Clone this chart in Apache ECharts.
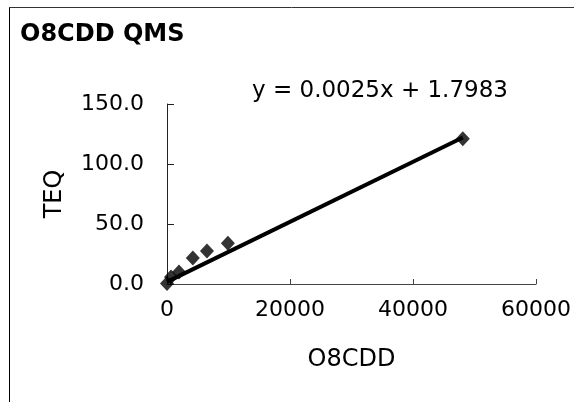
<!DOCTYPE html>
<html>
<head>
<meta charset="utf-8">
<script src="https://cdn.jsdelivr.net/npm/echarts@6/dist/echarts.min.js"></script>
<style>
html, body { margin: 0; padding: 0; background: #fff; }
#chart { width: 574px; height: 402px; }
</style>
</head>
<body>
<div id="chart"></div>
<script>
var o8cdd = [0, 650, 1950, 4200, 6500, 9900, 48100];
var teq = [0.5, 5.8, 10, 21.7, 27.5, 34, 121];
var slope = 0.0025;
var intercept = 1.7983;
var trendX = [0, 48100];
var xTicks = [0, 20000, 40000, 60000];
var yTicks = [0, 50, 100, 150];

var chart = echarts.init(document.getElementById('chart'));

var font = 'DejaVu Sans, sans-serif';

var option = {
    backgroundColor: '#fff',
    animation: false,
    title: {
        text: 'O8CDD QMS',
        left: 15,
        top: 18,
        textStyle: { fontFamily: font, fontSize: 24, fontWeight: 'bold', color: '#000' }
    },
    graphic: [
        { type: 'line', shape: { x1: 9.5, y1: 7, x2: 9.5, y2: 402 }, style: { stroke: '#000', lineWidth: 1 } },
        { type: 'line', shape: { x1: 9, y1: 7.5, x2: 574, y2: 7.5 }, style: { stroke: '#333', lineWidth: 1 } },
        {
            type: 'text', left: 252, top: 80,
            style: { text: 'y = 0.0025x + 1.7983', font: '23px ' + font, fill: '#000' }
        }
    ],
    grid: { left: 167, right: 37, top: 104, bottom: 118 },
    xAxis: {
        type: 'value',
        min: xTicks[0],
        max: xTicks[xTicks.length - 1],
        interval: 20000,
        name: 'O8CDD',
        nameLocation: 'middle',
        nameGap: 64,
        nameTextStyle: { fontFamily: font, fontSize: 24, color: '#000' },
        axisLine: { lineStyle: { color: '#444', width: 1 } },
        axisTick: { inside: true, length: 5, lineStyle: { color: '#444' } },
        axisLabel: {
            fontFamily: font, fontSize: 22, color: '#000', margin: 15,
            formatter: function (v) { return String(v); }
        },
        splitLine: { show: false }
    },
    yAxis: {
        type: 'value',
        min: yTicks[0],
        max: yTicks[yTicks.length - 1],
        interval: 50,
        name: 'TEQ',
        nameLocation: 'middle',
        nameGap: 100,
        nameRotate: 90,
        nameTextStyle: { fontFamily: font, fontSize: 24, color: '#000' },
        axisLine: { show: true, lineStyle: { color: '#222', width: 1 } },
        axisTick: { show: true, inside: true, length: 7, lineStyle: { color: '#222' } },
        axisLabel: {
            fontFamily: font, fontSize: 22, color: '#000', margin: 23,
            formatter: function (v) { return v.toFixed(1); }
        },
        splitLine: { show: false }
    },
    series: [
        {
            type: 'line',
            data: trendX.map(function (x) { return [x, slope * x + intercept]; }),
            symbol: 'none',
            lineStyle: { color: '#000', width: 4 },
            z: 2
        },
        {
            type: 'scatter',
            data: o8cdd.map(function (x, i) { return [x, teq[i]]; }),
            symbol: 'diamond',
            symbolSize: [14, 15],
            itemStyle: { color: '#000' },
            z: 3
        }
    ]
};

chart.setOption(option);
</script>
</body>
</html>
